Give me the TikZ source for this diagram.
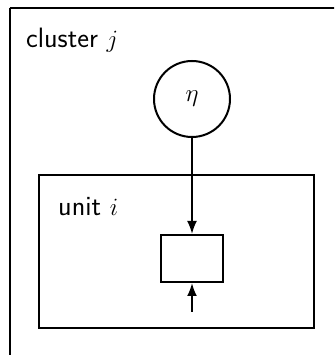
\documentclass[tikz,border=0pt]{standalone}
\usetikzlibrary{arrows.meta}
\begin{document}
\begin{tikzpicture}[x=1pt,y=1pt,
  frame/.style={draw,line width=2pt},
  lbl/.style={anchor=base west,inner sep=0pt,font=\fontsize{28}{32}\selectfont\sffamily},
  latent/.style={circle,draw,line width=2pt,minimum size=76pt,inner sep=0pt,font=\fontsize{28}{32}\selectfont},
  obs/.style={rectangle,draw,line width=2pt,minimum width=62pt,minimum height=47pt,inner sep=0pt},
  edge/.style={-{Latex[length=13pt,width=10pt]},line width=2pt}]
\useasboundingbox (0,0) rectangle (334,355);
\clip (0,0) rectangle (334,355);
\draw[frame] (9.5,346.5) -- (345,346.5) (9.5,346.5) -- (9.5,-10);
\draw[frame] (39,180) rectangle (314,27);
\node[lbl] (cl) at (26,307) {cluster $j$};
\node[lbl] (un) at (58,139) {unit $i$};
\node[latent] (eta) at (192,256) {$\eta$};
\node[obs] (y) at (192,96.5) {};
\coordinate (in) at (192,43);
\draw[edge] (eta) -- (y);
\draw[edge] (in) -- (y);
\end{tikzpicture}
\end{document}
